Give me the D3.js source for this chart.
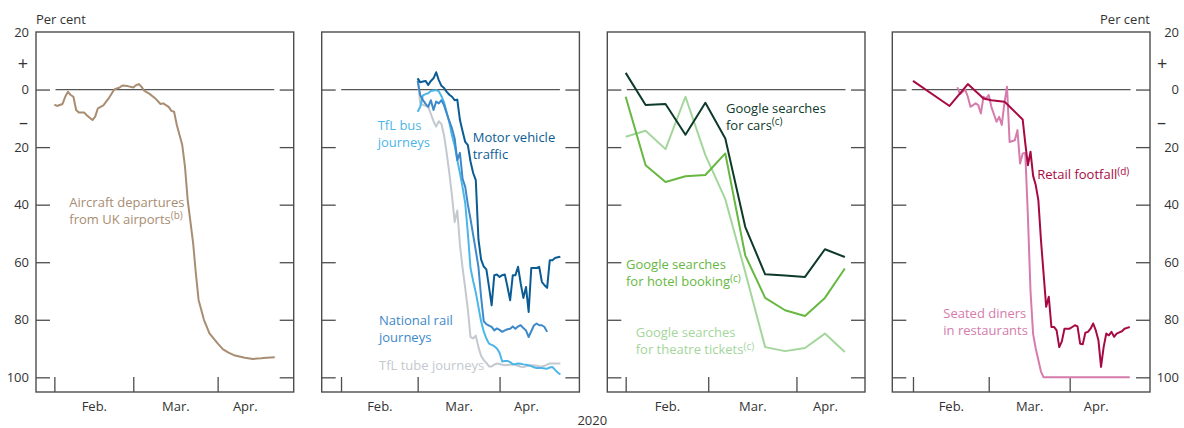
<!DOCTYPE html>
<html>
<head>
<meta charset="utf-8">
<script src="https://cdn.jsdelivr.net/npm/d3@7"></script>
<style>
  body { margin: 0; background: #fff; }
  svg text { font-family: "Open Sans", sans-serif; }
</style>
</head>
<body>
<div id="chart"></div>
<script>
// ---- data (percentage change) ----

// panel 1: aircraft departures from UK airports
const aircraftDates = ["2020-02-01","2020-02-02","2020-02-04","2020-02-05","2020-02-06","2020-02-07","2020-02-08",
  "2020-02-09","2020-02-10","2020-02-12","2020-02-13","2020-02-15","2020-02-16","2020-02-17","2020-02-18",
  "2020-02-19","2020-02-21","2020-02-23","2020-02-25","2020-02-26","2020-02-28","2020-03-01","2020-03-02",
  "2020-03-03","2020-03-04","2020-03-05","2020-03-07","2020-03-09","2020-03-11","2020-03-12","2020-03-14",
  "2020-03-15","2020-03-16","2020-03-17","2020-03-19","2020-03-20","2020-03-21","2020-03-23","2020-03-24",
  "2020-03-25","2020-03-27","2020-03-29","2020-04-01","2020-04-03","2020-04-05","2020-04-07","2020-04-11",
  "2020-04-14","2020-04-17","2020-04-19","2020-04-22"];
const aircraftValues = [-5.2,-5.7,-5.0,-2.5,-0.8,-1.9,-2.5,-7.1,-8.0,-8.0,-9.0,-10.6,-9.4,-6.5,-6.0,-5.5,-3.0,0,0.7,1.4,
  1.2,0.7,1.5,1.9,1.0,-0.4,-1.5,-3.0,-5.0,-4.8,-6.0,-7.4,-7.7,-12.3,-19.3,-26.8,-38.4,-53.4,-63.9,-73.1,-80.1,
  -84.7,-88.2,-90.3,-91.4,-92.3,-93.2,-93.6,-93.4,-93.2,-93.0];

// panel 2: London transport, daily from 1 March
const londonStart = "2020-03-01";
const motorValues = [3.9,2.5,2.8,3.0,1.6,3.0,3.9,6.0,3.3,1.3,0.5,-0.8,-1.8,-2.5,-3.7,-3.5,-10.6,-14.5,-18.2,-19.3,
  -25,-29,-31.5,-52,-59,-61.5,-62.5,-68.6,-75,-64.5,-64.3,-65.1,-64.5,-64.3,-68.6,-73.2,-64.5,-64.5,-61.6,-67.4,
  -72.4,-68.6,-77.3,-62,-62,-62,-61.6,-66.8,-68,-68.9,-59.3,-59.3,-58.5,-58.3,-58.1];
const railValues = [3.0,-2.0,-3.7,-5.0,-6.0,-3.7,-7.1,-4.2,-4.8,-3.7,-5.5,-8.3,-11,-13.5,-17,-24.5,-22,-31,-33.8,-40,
  -45,-50.5,-56,-61.6,-72,-80.5,-81.5,-82,-82.5,-83.7,-83,-83.5,-84.2,-83.7,-83.3,-83.1,-82.3,-83.1,-82.3,-81.9,
  -82.9,-83.7,-86,-84,-82,-81.3,-81.9,-81.9,-82.5,-84.2];
const busValues = [-7.7,-6,-2,-1.6,-1.3,-0.5,-0.3,-0.2,-0.6,-2.3,-4.5,-8,-11.5,-16,-19.5,-24.5,-29,-34,-39.5,-50,
  -62,-66.5,-70.5,-75.5,-80.5,-84,-86.5,-88.3,-88.7,-89.2,-90,-91.5,-94.5,-94.3,-94.3,-94.7,-95.5,-95.4,-95.2,-95.3,
  -95.5,-95.6,-95.8,-96.1,-96.5,-96.8,-96.8,-96.8,-96.9,-97,-96.6,-96.4,-97.4,-98.3,-99];
const tubeValues = [3.9,-5.0,-5.3,-5.7,-6,-8.5,-11,-12.9,-11,-12,-16,-22.2,-29.1,-37,-46,-42,-54,-62,-69,-76.5,
  -86,-86.5,-85.5,-89.5,-92.5,-94,-95,-96.2,-96.2,-95.6,-95.2,-95.4,-95.6,-95.8,-95.7,-95.6,-95.5,-95.7,-96,-96.3,
  -96.4,-96.2,-96,-95.8,-95.9,-96,-96.2,-96.2,-96,-95.6,-95.2,-95.2,-95.2,-95.2,-95.2];

// panel 3: Google searches, weekly
const googleDates = ["2020-02-01","2020-02-08","2020-02-15","2020-02-22","2020-02-29","2020-03-07",
  "2020-03-14","2020-03-21","2020-03-28","2020-04-04","2020-04-11","2020-04-18"];
const carsValues = [5.8,-5.4,-5.0,-15.7,-4.6,-17.0,-47.7,-64.2,-64.6,-65.1,-55.5,-58.2];
const hotelValues = [-2.5,-26.3,-32.1,-30.1,-29.7,-22.2,-57.6,-72.4,-76.7,-78.7,-72.4,-62.2];
const theatreValues = [-16.4,-14.3,-20.7,-2.5,-22.8,-38.1,-63.4,-89.5,-90.9,-89.8,-84.8,-91.2];

// panel 4: retail footfall and seated diners
const retailDates = ["2020-02-01","2020-02-15","2020-02-22","2020-02-28","2020-03-02","2020-03-07","2020-03-08",
  "2020-03-14","2020-03-15","2020-03-16","2020-03-17","2020-03-18","2020-03-19","2020-03-20","2020-03-21",
  "2020-03-22","2020-03-23","2020-03-24","2020-03-25","2020-03-26","2020-03-27","2020-03-28","2020-03-29",
  "2020-03-30","2020-03-31","2020-04-01","2020-04-02","2020-04-03","2020-04-04","2020-04-05","2020-04-06",
  "2020-04-07","2020-04-08","2020-04-09","2020-04-10","2020-04-11","2020-04-12","2020-04-13","2020-04-14",
  "2020-04-15","2020-04-16","2020-04-17","2020-04-18","2020-04-19","2020-04-20","2020-04-21","2020-04-22",
  "2020-04-23","2020-04-24"];
const retailValues = [3,-5.7,1.9,-3.1,-3.7,-4.2,-5,-10.4,-18.7,-26.3,-21.6,-30,-33.2,-38.4,-52.3,-63.9,-75.5,
  -72,-82.5,-82.5,-83.7,-89.5,-87.5,-83.1,-83.1,-83.1,-82.5,-81.9,-82.3,-88.3,-88.5,-84.5,-84.2,-83.1,-81.3,
  -83.7,-87.1,-96.4,-89.5,-84.8,-85.4,-84.2,-85.9,-84.8,-84.4,-84,-83.1,-82.8,-82.5];
const dinersDates = ["2020-02-18","2020-02-19","2020-02-21","2020-02-22","2020-02-23","2020-02-25","2020-02-26",
  "2020-02-27","2020-02-28","2020-02-29","2020-03-01","2020-03-02","2020-03-04","2020-03-05","2020-03-06",
  "2020-03-07","2020-03-08","2020-03-09","2020-03-11","2020-03-12","2020-03-13","2020-03-14","2020-03-15",
  "2020-03-16","2020-03-17","2020-03-18","2020-03-19","2020-03-20","2020-03-21","2020-03-22","2020-04-24"];
const dinersValues = [0.8,-1.6,0,-2.5,-6,-4.8,-5.4,-8.3,-2.5,-3.1,-1.9,-6,-11.2,-9.5,-12.3,-4.8,1,-18.2,-17.6,
  -14.1,-25.7,-22.2,-22,-44,-70,-85,-90,-94,-98,-100,-100];

// axes
const monthStarts = ["2020-02-01","2020-03-01","2020-04-01"];
const monthLabelDates = ["2020-02-15T12:00Z","2020-03-16T12:00Z","2020-04-11T00:00Z"];
const monthLabels = ["Feb.","Mar.","Apr."];
const yLabelValues = [20, 0, -20, -40, -60, -80, -100];
const yLabels = ["20", "0", "20", "40", "60", "80", "100"];
const signValues = [9, -11.5];
const signLabels = ["+", "\u2013"];
const yTickValues = [0, -20, -40, -60, -80, -100];

const colors = {
  aircraft: "#a88d72",
  motor: "#0b5c94", rail: "#3d89c9", bus: "#4db6e9", tube: "#c3c9ce",
  cars: "#0e3a2a", hotel: "#66b843", theatre: "#a3d69b",
  retail: "#a70a43", diners: "#d57cac"
};

// ---- layout ----
const W = 1184, H = 428;
const plotTop = 32, plotBottom = 392;
const panelW = 257.7;
const panels = [
  {left: 36, domain: ["2020-01-25T06:00Z", "2020-04-28T23:00Z"]},
  {left: 321.7, domain: ["2020-01-24T16:30Z", "2020-05-01T05:00Z"]},
  {left: 607.3, domain: ["2020-01-25T13:00Z", "2020-04-25T02:00Z"]},
  {left: 892.3, domain: ["2020-01-24T02:00Z", "2020-05-01T18:00Z"]}
];

const y = d3.scaleLinear().domain([20, -105.1]).range([plotTop, plotBottom]);

function daily(start, values) {
  const s = new Date(start);
  return values.map((v, i) => ({date: d3.utcDay.offset(s, i), value: v}));
}
function paired(dates, values) {
  return dates.map((d, i) => ({date: new Date(d), value: values[i]}));
}

const series = [
  {panel: 0, color: colors.aircraft, data: paired(aircraftDates, aircraftValues)},
  {panel: 1, color: colors.tube, data: daily(londonStart, tubeValues)},
  {panel: 1, color: colors.bus, data: daily(londonStart, busValues)},
  {panel: 1, color: colors.rail, data: daily(londonStart, railValues)},
  {panel: 1, color: colors.motor, data: daily(londonStart, motorValues)},
  {panel: 2, color: colors.theatre, data: paired(googleDates, theatreValues)},
  {panel: 2, color: colors.hotel, data: paired(googleDates, hotelValues)},
  {panel: 2, color: colors.cars, data: paired(googleDates, carsValues)},
  {panel: 3, color: colors.diners, data: paired(dinersDates, dinersValues)},
  {panel: 3, color: colors.retail, data: paired(retailDates, retailValues)}
];

// text labels: page position of first baseline
const notes = [
  {x: 69.3, y: 206.5, color: colors.aircraft, lines: ["Aircraft departures", "from UK airports"], sup: "(b)"},
  {x: 377.7, y: 129.5, color: colors.bus, lines: ["TfL bus", "journeys"]},
  {x: 472.7, y: 142, color: colors.motor, lines: ["Motor vehicle", "traffic"]},
  {x: 379, y: 325, color: colors.rail, lines: ["National rail", "journeys"]},
  {x: 379, y: 370, color: colors.tube, lines: ["TfL tube journeys"]},
  {x: 726, y: 112.7, color: colors.cars, lines: ["Google searches", "for cars"], sup: "(c)"},
  {x: 626, y: 269.3, color: colors.hotel, lines: ["Google searches", "for hotel booking"], sup: "(c)"},
  {x: 635.7, y: 337.3, color: colors.theatre, lines: ["Google searches", "for theatre tickets"], sup: "(c)"},
  {x: 1037.3, y: 179.3, color: colors.retail, lines: ["Retail footfall"], sup: "(d)"},
  {x: 943.3, y: 318.3, color: colors.diners, lines: ["Seated diners", "in restaurants"]}
];

const svg = d3.select("#chart").append("svg")
    .attr("width", W)
    .attr("height", H);

const frameColor = "#4d4d4d";
const textColor = "#333";

panels.forEach((p, pi) => {
  const x = d3.scaleUtc()
      .domain(p.domain.map(d => new Date(d)))
      .range([p.left, p.left + panelW]);
  p.x = x;
  const right = p.left + panelW;

  const g = svg.append("g");

  // zero line with gaps next to the edge ticks
  g.append("line")
      .attr("x1", p.left + 19.5).attr("x2", right - 19.5)
      .attr("y1", y(0)).attr("y2", y(0))
      .attr("stroke", "#555").attr("stroke-width", 1.2);

  // inward ticks on both sides
  g.append("g")
      .attr("transform", `translate(${p.left},0)`)
      .call(d3.axisLeft(y).tickValues(yTickValues).tickSize(-14).tickFormat(""))
      .call(a => a.select(".domain").remove());
  g.append("g")
      .attr("transform", `translate(${right},0)`)
      .call(d3.axisRight(y).tickValues(yTickValues).tickSize(-14).tickFormat(""))
      .call(a => a.select(".domain").remove());

  // month boundary ticks
  g.append("g")
      .attr("transform", `translate(0,${plotBottom})`)
      .call(d3.axisBottom(x).tickValues(monthStarts.map(d => new Date(d))).tickSize(-15).tickFormat(""))
      .call(a => a.select(".domain").remove());

  // month labels
  g.append("g")
      .attr("transform", `translate(0,${plotBottom})`)
      .call(d3.axisBottom(x).tickValues(monthLabelDates.map(d => new Date(d)))
          .tickSize(0).tickPadding(10).tickFormat((d, i) => monthLabels[i]))
      .call(a => a.select(".domain").remove())
      .call(a => a.selectAll("text").attr("font-size", 13).attr("fill", textColor)
          .style("font-family", "'Open Sans', sans-serif"));

  g.selectAll(".tick line").attr("stroke", frameColor).attr("stroke-width", 1.3);

  // frame
  g.append("rect")
      .attr("x", p.left).attr("y", plotTop)
      .attr("width", panelW).attr("height", plotBottom - plotTop)
      .attr("fill", "none")
      .attr("stroke", frameColor).attr("stroke-width", 1.4);
});

// y labels, left of first panel and right of last panel
const leftEdge = panels[0].left, rightEdge = panels[3].left + panelW;
[leftEdge - 7, rightEdge + 29].forEach(lx => {
  svg.append("g").selectAll("text")
      .data(yLabelValues).enter().append("text")
      .attr("x", lx)
      .attr("y", d => y(d))
      .attr("dy", "0.35em")
      .attr("text-anchor", "end")
      .attr("font-size", 13)
      .attr("fill", textColor)
      .text((d, i) => yLabels[i]);
});

// the + and – signs sit next to the frame
[{x: leftEdge - 8, anchor: "end"}, {x: rightEdge + 7, anchor: "start"}].forEach(s => {
  svg.append("g").selectAll("text")
      .data(signValues).enter().append("text")
      .attr("x", s.x)
      .attr("y", d => y(d))
      .attr("dy", "0.35em")
      .attr("text-anchor", s.anchor)
      .attr("font-size", 18)
      .attr("fill", textColor)
      .text((d, i) => signLabels[i]);
});

svg.append("text")
    .attr("x", leftEdge).attr("y", 24)
    .attr("font-size", 13).attr("fill", textColor)
    .text("Per cent");
svg.append("text")
    .attr("x", rightEdge).attr("y", 24)
    .attr("text-anchor", "end")
    .attr("font-size", 13).attr("fill", textColor)
    .text("Per cent");

svg.append("text")
    .attr("x", 592.3).attr("y", 424.5)
    .attr("text-anchor", "middle")
    .attr("font-size", 13).attr("fill", textColor)
    .text("2020");

// lines
series.forEach(s => {
  const x = panels[s.panel].x;
  const line = d3.line()
      .x(d => x(d.date))
      .y(d => y(d.value));
  svg.append("path")
      .datum(s.data)
      .attr("d", line)
      .attr("fill", "none")
      .attr("stroke", s.color)
      .attr("stroke-width", 2)
      .attr("stroke-linejoin", "round");
});

// annotations
notes.forEach(n => {
  const t = svg.append("text")
      .attr("x", n.x).attr("y", n.y)
      .attr("font-size", 13)
      .attr("fill", n.color);
  n.lines.forEach((l, i) => {
    t.append("tspan")
        .attr("x", n.x)
        .attr("y", n.y + i * 17)
        .text(l);
  });
  if (n.sup) {
    t.append("tspan")
        .attr("font-size", 10)
        .attr("dy", -4.5)
        .text(n.sup);
  }
});
</script>
</body>
</html>
